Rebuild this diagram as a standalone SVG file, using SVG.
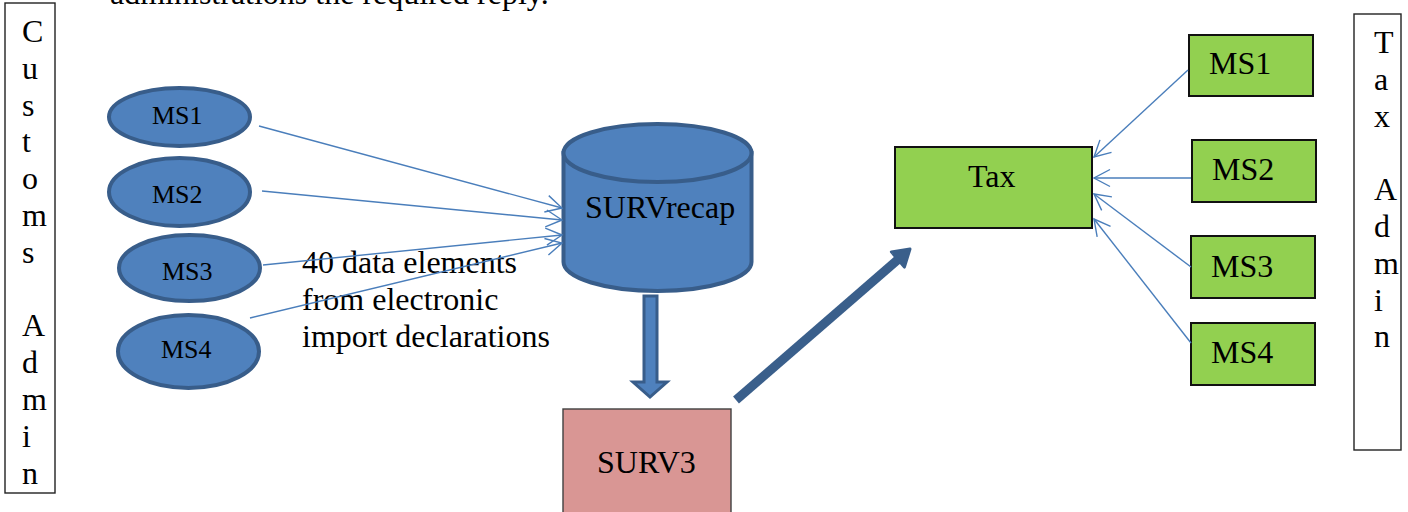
<svg xmlns="http://www.w3.org/2000/svg" width="1408" height="512" viewBox="0 0 1408 512">
<style>
text{font-family:"Liberation Serif","Times New Roman",serif;fill:#000}
.t32{font-size:32px}
.t26{font-size:26px}
.ell{fill:#4f81bd;stroke:#385d8a;stroke-width:4}
.grn{fill:#92d050;stroke:#111;stroke-width:2}
.frame{fill:#fff;stroke:#222;stroke-width:1.4}
.conn{fill:none;stroke:#4a7ebb;stroke-width:1.4}
</style>
<defs>
<marker id="open" markerUnits="userSpaceOnUse" markerWidth="22" markerHeight="22" viewBox="-19 -11 22 22" refX="0" refY="0" orient="auto">
<path d="M-16,-8.5 L0,0 L-16,8.5" fill="none" stroke="#4a7ebb" stroke-width="1.4"/>
</marker>
</defs>
<text class="t32" x="110" y="4">administrations the required reply.</text>
<g id="customs-admin">
<rect class="frame" x="5" y="3" width="50" height="490"/>
<text class="t32" x="22" y="42">C</text>
<text class="t32" x="22" y="78.8">u</text>
<text class="t32" x="22" y="115.6">s</text>
<text class="t32" x="22" y="152.4">t</text>
<text class="t32" x="22" y="189.2">o</text>
<text class="t32" x="22" y="226">m</text>
<text class="t32" x="22" y="262.8">s</text>
<text class="t32" x="22" y="336.4">A</text>
<text class="t32" x="22" y="373.2">d</text>
<text class="t32" x="22" y="410">m</text>
<text class="t32" x="22" y="446.8">i</text>
<text class="t32" x="22" y="483.6">n</text>
</g>
<g id="tax-admin">
<rect class="frame" x="1354" y="14" width="47" height="436"/>
<text class="t32" x="1374" y="53">T</text>
<text class="t32" x="1374" y="89.8">a</text>
<text class="t32" x="1374" y="126.6">x</text>
<text class="t32" x="1374" y="200.2">A</text>
<text class="t32" x="1374" y="237">d</text>
<text class="t32" x="1374" y="273.8">m</text>
<text class="t32" x="1374" y="310.6">i</text>
<text class="t32" x="1374" y="347.4">n</text>
</g>
<g id="cms1"><ellipse class="ell" cx="179.5" cy="117" rx="70.5" ry="29"/><text class="t26" x="152" y="124">MS1</text></g>
<g id="cms2"><ellipse class="ell" cx="179.5" cy="192" rx="70.5" ry="34"/><text class="t26" x="152" y="203">MS2</text></g>
<g id="cms3"><ellipse class="ell" cx="189.5" cy="268" rx="70.5" ry="33"/><text class="t26" x="162" y="280">MS3</text></g>
<g id="cms4"><ellipse class="ell" cx="188.5" cy="351.5" rx="70.5" ry="36.5"/><text class="t26" x="161" y="358">MS4</text></g>
<g id="survrecap">
<path class="ell" d="M563.5,153 L563.5,262 A94,29 0 0 0 751.5,262 L751.5,153 Z"/>
<ellipse class="ell" cx="657.5" cy="153" rx="94" ry="29"/>
<text class="t32" x="585" y="218">SURVrecap</text>
</g>
<g id="surv3">
<rect x="563" y="409" width="168" height="112" fill="#d99694" stroke="#404040" stroke-width="1.4"/>
<text class="t32" x="597" y="473">SURV3</text>
</g>
<g id="tax">
<rect class="grn" x="895" y="147" width="197" height="81" stroke-width="1.6"/>
<text class="t32" x="968" y="187">Tax</text>
</g>
<g id="tms1"><rect class="grn" x="1189" y="35" width="124" height="61"/><text class="t32" x="1209" y="74">MS1</text></g>
<g id="tms2"><rect class="grn" x="1192" y="140" width="124" height="62"/><text class="t32" x="1212" y="180">MS2</text></g>
<g id="tms3"><rect class="grn" x="1191" y="236" width="124" height="62"/><text class="t32" x="1211" y="277">MS3</text></g>
<g id="tms4"><rect class="grn" x="1191" y="323" width="124" height="62"/><text class="t32" x="1211" y="363">MS4</text></g>
<g id="note">
<text class="t32" x="302" y="273">40 data elements</text>
<text class="t32" x="302" y="310">from electronic</text>
<text class="t32" x="302" y="347">import declarations</text>
</g>
<g id="connectors">
<line class="conn" x1="259" y1="126" x2="562" y2="208" marker-end="url(#open)"/>
<line class="conn" x1="262" y1="191" x2="562" y2="220" marker-end="url(#open)"/>
<line class="conn" x1="263" y1="265" x2="562" y2="235" marker-end="url(#open)"/>
<line class="conn" x1="250" y1="318" x2="562" y2="243" marker-end="url(#open)"/>
<line class="conn" x1="1188" y1="70" x2="1094" y2="157" marker-end="url(#open)"/>
<line class="conn" x1="1191" y1="178" x2="1094" y2="178" marker-end="url(#open)"/>
<line class="conn" x1="1191" y1="267" x2="1094" y2="194" marker-end="url(#open)"/>
<line class="conn" x1="1191" y1="343" x2="1094" y2="219" marker-end="url(#open)"/>
<path d="M644,296 L657,296 L657,382 L667,382 L650,397 L633,382 L644,382 Z" fill="#4f81bd" stroke="#385d8a" stroke-width="3" stroke-linejoin="miter"/>
<line x1="736" y1="400" x2="898" y2="259.5" stroke="#3a5f8b" stroke-width="9"/>
<polygon points="910,249 904.4,267.1 891.4,251.9" fill="#3a5f8b" stroke="#3a5f8b" stroke-width="3" stroke-linejoin="round"/>
</g>
</svg>
